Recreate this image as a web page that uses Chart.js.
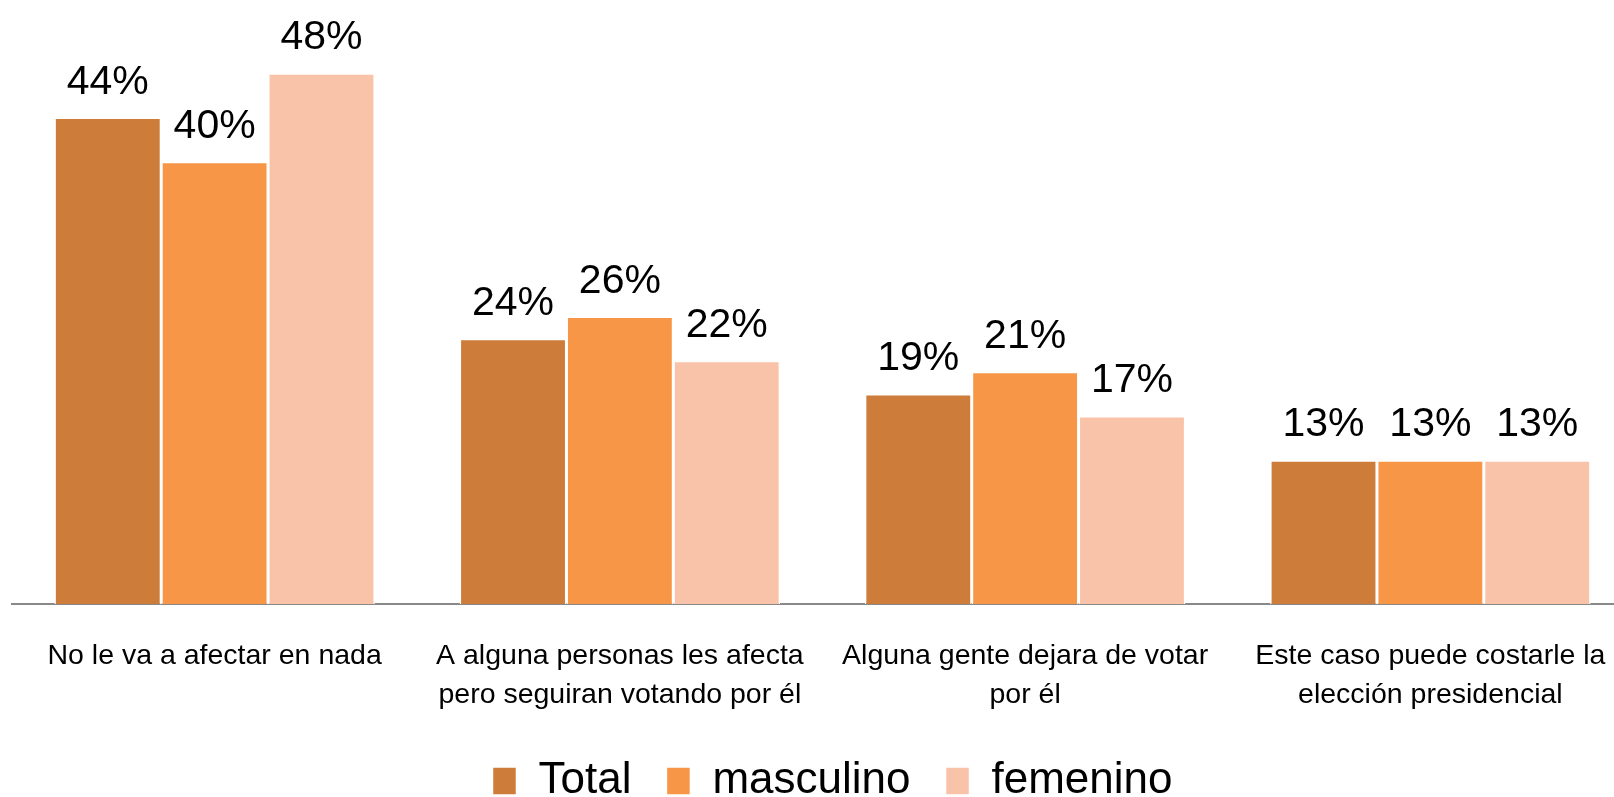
<!DOCTYPE html>
<html>
<head>
<meta charset="utf-8">
<script src="https://cdn.jsdelivr.net/npm/chart.js@4.4.0/dist/chart.umd.min.js"></script>
<style>
  html, body { margin: 0; padding: 0; background: #ffffff; overflow: hidden; }
  #wrap { position: absolute; left: 0; top: 0; width: 1640px; height: 813px; }
</style>
</head>
<body>
<div id="wrap"><canvas id="impactChart"></canvas></div>
<script>
// Survey answers: how the case will affect the candidate, by gender.
// ============================================================

const categories = [
  ["No le va a afectar en nada"],
  ["A alguna personas les afecta", "pero seguiran votando por él"],
  ["Alguna gente dejara de votar", "por él"],
  ["Este caso puede costarle la", "elección presidencial"]
];

const seriesNames = ["Total", "masculino", "femenino"];
const totalValues     = [44, 24, 19, 13];
const masculinoValues = [40, 26, 21, 13];
const femeninoValues  = [48, 22, 17, 13];
const seriesColors = ["#CD7C3A", "#F79646", "#F9C3A9"];

// Small inline plugin that writes "NN%" above every bar.
// Uses the bar elements Chart.js already placed, so positions come from the scales.
const valueLabels = {
  id: "valueLabels",
  afterDatasetsDraw: function (chart) {
    const ctx = chart.ctx;
    ctx.save();
    ctx.font = "41px 'Liberation Sans', Arial, sans-serif";
    ctx.fillStyle = "#000000";
    ctx.textAlign = "center";
    ctx.textBaseline = "alphabetic";
    chart.data.datasets.forEach(function (ds, i) {
      const meta = chart.getDatasetMeta(i);
      meta.data.forEach(function (bar, j) {
        ctx.fillText(ds.data[j] + "%", bar.x, bar.y - 24);
      });
    });
    ctx.restore();
  }
};

// Nudge the legend a little right, the original sits off-centre
const legendNudge = {
  id: "legendNudge",
  afterLayout: function (chart) {
    if (chart.legend) {
      chart.legend.left += 10;
      chart.legend.right += 10;
    }
  }
};

const valueSets = [totalValues, masculinoValues, femeninoValues];

new Chart(document.getElementById("impactChart"), {
  type: "bar",
  data: {
    labels: categories,
    datasets: seriesNames.map(function (name, i) {
      return {
        label: name,
        data: valueSets[i],
        backgroundColor: seriesColors[i],
        borderColor: "#ffffff",
        borderWidth: 1.5,
        barPercentage: 1.0,
        categoryPercentage: 0.791
      };
    })
  },
  options: {
    responsive: true,
    maintainAspectRatio: false,
    animation: false,
    layout: { padding: { left: 12, right: 7, top: 18, bottom: 0 } },
    scales: {
      x: {
        grid: { display: false, drawTicks: false },
        border: { display: true, color: "#898989", width: 2 },
        ticks: {
          color: "#000000",
          padding: 33,
          maxRotation: 0,
          autoSkip: false,
          font: { family: "'Liberation Sans', Arial, sans-serif", size: 28.5, lineHeight: 1.35 }
        },
        afterFit: function (axis) { axis.height = 120; }
      },
      y: {
        display: false,
        min: 0,
        max: 53
      }
    },
    plugins: {
      tooltip: { enabled: false },
      legend: {
        position: "bottom",
        labels: {
          color: "#000000",
          boxWidth: 24,
          boxHeight: 28,
          padding: 35,
          font: { family: "'Liberation Sans', Arial, sans-serif", size: 44 }
        }
      }
    }
  },
  plugins: [valueLabels, legendNudge]
});
</script>
</body>
</html>
